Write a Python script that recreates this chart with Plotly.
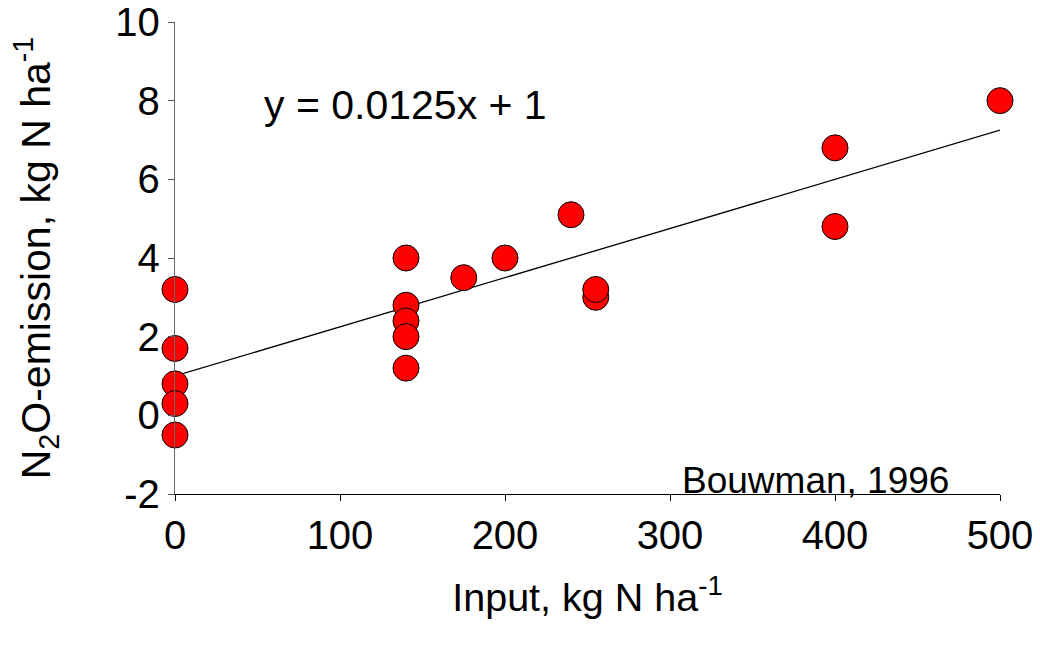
import plotly.graph_objects as go

input_n = [0, 0, 0, 0, 0, 140, 140, 140, 140, 140, 175, 200, 240, 255, 255, 400, 400, 500]
n2o_emission = [3.2, 1.7, 0.8, 0.3, -0.5, 4.0, 2.8, 2.4, 2.0, 1.2, 3.5, 4.0, 5.1, 3.0, 3.2, 6.8, 4.8, 8.0]
slope = 0.0125
intercept = 1.0
trend_x = [0, 500]
trend_y = [intercept + slope * v for v in trend_x]
x_ticks = [0, 100, 200, 300, 400, 500]
y_ticks = [-2, 0, 2, 4, 6, 8, 10]
y_tick_labels = ["-2", "0", "2", "4", "6", "8", "10"]

FONT = "Arial, Liberation Sans, sans-serif"

fig = go.Figure()
fig.add_trace(go.Scatter(x=trend_x, y=trend_y, mode="lines",
                         line=dict(color="black", width=1.3), showlegend=False,
                         cliponaxis=False))
fig.add_trace(go.Scatter(x=input_n, y=n2o_emission, mode="markers",
                         marker=dict(size=26, color="#ff0000", line=dict(color="black", width=1)),
                         showlegend=False, cliponaxis=False))

fig.update_layout(
    width=1040, height=645,
    margin=dict(l=175, r=40, t=22, b=151),
    plot_bgcolor="white", paper_bgcolor="white",
    font=dict(family=FONT, color="black", size=38),
    xaxis=dict(range=[0, 500], tickvals=x_ticks, ticks="outside", ticklen=6,
               tickcolor="black", showline=True, linecolor="black", linewidth=1.3,
               showgrid=False, zeroline=False, tickfont=dict(size=40), automargin=False,
               ticklabeloverflow="allow",
               title=dict(text="Input, kg N ha<sup>-1</sup>", font=dict(size=39.5), standoff=27)),
    yaxis=dict(range=[-2, 10], tickvals=y_ticks, ticktext=y_tick_labels, ticks="outside", ticklen=6,
               tickcolor="#555555", showline=True, linecolor="#666666", linewidth=1.3,
               showgrid=False, zeroline=False, tickfont=dict(size=40), automargin=False,
               ticklabeloverflow="allow",
               title=dict(text="N<sub>2</sub>O-emission, kg N ha<sup>-1</sup>", font=dict(size=41), standoff=51)),
    annotations=[
        dict(x=53, y=7.9, xref="x", yref="y", text="y = 0.0125x + 1", showarrow=False,
             xanchor="left", yanchor="middle", font=dict(size=41)),
        dict(x=470, y=-1.65, xref="x", yref="y", text="Bouwman, 1996", showarrow=False,
             xanchor="right", yanchor="middle", font=dict(size=37)),
    ],
)

fig.write_html("out.html", config={"displayModeBar": False},
               post_script="document.body.style.margin='0';document.body.style.overflow='hidden';")
